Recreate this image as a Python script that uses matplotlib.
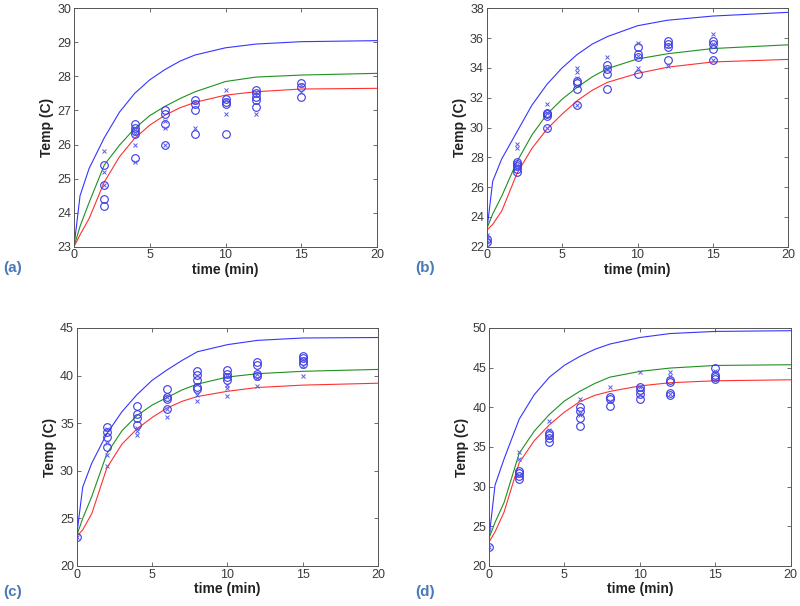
import matplotlib
matplotlib.use("Agg")
import matplotlib.pyplot as plt

plt.rcParams['font.family'] = ['Liberation Sans', 'DejaVu Sans']

# ---------------- model curves ----------------
t_curve = [0, 0.4, 1, 2, 3, 4, 5, 6, 7, 8, 10, 12, 15, 20]

blue_a = [23, 24.5, 25.3, 26.2, 26.95, 27.5, 27.9, 28.2, 28.45, 28.63, 28.84, 28.95, 29.02, 29.05]
green_a = [23, 23.6, 24.3, 25.4, 25.98, 26.47, 26.85, 27.12, 27.35, 27.55, 27.85, 27.98, 28.04, 28.09]
red_a = [23, 23.35, 23.83, 24.9, 25.64, 26.18, 26.57, 26.86, 27.08, 27.24, 27.45, 27.55, 27.63, 27.65]

blue_b = [23, 26.4, 27.9, 29.7, 31.5, 32.9, 34.0, 34.9, 35.6, 36.1, 36.83, 37.2, 37.48, 37.73]
green_b = [23.2, 24.2, 25.4, 27.7, 29.5, 30.9, 31.9, 32.7, 33.4, 33.95, 34.6, 34.95, 35.3, 35.55]
red_b = [23.1, 23.5, 24.4, 26.9, 28.6, 29.9, 30.9, 31.8, 32.5, 33.03, 33.63, 34.05, 34.4, 34.57]

blue_c = [23.2, 28.3, 30.8, 33.9, 36.2, 38.0, 39.5, 40.6, 41.6, 42.5, 43.25, 43.7, 43.95, 44.0]
green_c = [23.2, 25.0, 27.3, 31.8, 34.2, 35.8, 36.9, 37.7, 38.5, 39.1, 39.85, 40.2, 40.45, 40.65]
red_c = [23.1, 23.8, 25.5, 30.3, 32.8, 34.4, 35.6, 36.6, 37.3, 37.8, 38.35, 38.75, 39.0, 39.2]

blue_d = [23.5, 30.2, 33.5, 38.5, 41.6, 43.8, 45.3, 46.4, 47.3, 47.97, 48.8, 49.3, 49.57, 49.66]
green_d = [23.5, 25.5, 28.0, 34.2, 37.0, 39.1, 40.8, 42.0, 43.0, 43.8, 44.53, 44.95, 45.28, 45.37]
red_d = [23.0, 24.3, 26.8, 33.0, 35.8, 37.8, 39.4, 40.7, 41.5, 42.0, 42.7, 43.1, 43.35, 43.47]

# ---------------- measured data (circles and crosses) ----------------
t_a = [2, 4, 6, 8, 10, 12, 15]
circ_a = [[25.4, 24.8, 24.4, 24.2], [26.6, 26.5, 26.4, 26.3, 25.6], [27.0, 26.9, 26.6, 26.0],
          [27.3, 27.2, 27.0, 26.3], [27.35, 27.25, 27.2, 26.3], [27.6, 27.5, 27.4, 27.3, 27.1],
          [27.8, 27.7, 27.4]]
cross_a = [[25.8, 25.2, 24.8], [26.5, 26.3, 26.0, 25.5], [26.7, 26.5, 26.0], [27.25, 26.5],
           [27.6, 27.3, 26.9], [27.55, 27.45, 26.9], [27.75, 27.55]]

t_b = [0, 2, 4, 6, 8, 10, 12, 15]
circ_b = [[22.3, 22.5], [27.7, 27.55, 27.4, 27.2, 27.0], [31.0, 30.9, 30.8, 30.0],
          [33.1, 33.0, 32.6, 31.5], [34.2, 33.9, 33.6, 32.6], [35.4, 34.9, 34.7, 33.6],
          [35.8, 35.6, 35.4, 34.5], [35.8, 35.6, 35.3, 34.5]]
cross_b = [[22.3, 22.6, 22.8], [28.9, 28.6, 27.5, 27.3], [31.6, 31.0, 30.0], [34.0, 33.7, 33.3, 31.5],
           [34.7, 34.0], [35.7, 34.8, 34.0], [35.5, 34.15], [36.3, 35.6, 34.5]]

t_c = [0, 2, 4, 6, 8, 10, 12, 15]
circ_c = [[23.0], [34.6, 34.1, 33.6, 32.5], [36.8, 36.0, 35.5, 34.8], [38.6, 37.8, 37.5, 36.5],
          [40.5, 40.1, 39.5, 38.8, 38.6], [40.6, 40.2, 39.9, 39.5], [41.4, 41.1, 40.2, 40.0],
          [42.1, 41.8, 41.5, 41.2]]
cross_c = [[23.0], [34.4, 32.9, 31.7, 30.5], [34.5, 34.2, 33.8], [37.7, 36.5, 35.6], [38.0, 37.3],
           [40.0, 39.0, 38.7, 37.9], [40.2, 39.7, 38.9], [41.7, 41.0, 40.0]]

t_d = [0, 2, 4, 6, 8, 10, 12, 15]
circ_d = [[22.45], [32.0, 31.7, 31.3, 31.0], [36.8, 36.5, 36.1, 35.6], [40.0, 39.6, 38.6, 37.7],
          [41.3, 41.0, 40.2], [42.6, 42.2, 41.7, 41.0], [43.5, 43.2, 41.8, 41.6],
          [45.0, 44.1, 43.8, 43.6]]
cross_d = [[22.45, 24.6], [34.4, 33.5, 31.5], [38.3, 37.2, 36.3], [41.0, 39.3, 39.0], [42.5, 40.8],
           [44.5, 42.5, 41.6], [44.4, 44.0, 41.7], [44.6, 43.4]]

panel_labels = ['(a)', '(b)', '(c)', '(d)']
ylims = [(23, 30), (22, 38), (20, 45), (20, 50)]
yticks = [list(range(23, 31)), list(range(22, 39, 2)), list(range(20, 46, 5)), list(range(20, 51, 5))]
xticks = [0, 5, 10, 15, 20]

W, H = 800, 606
fig = plt.figure(figsize=(W / 100, H / 100), dpi=100)

# axes boxes in pixels: left, top, right, bottom
boxes = [(74, 8.3, 377, 246.7), (486.7, 8.3, 788.3, 246.7),
         (76.7, 328, 378, 566), (489, 328, 790.7, 566)]
label_pos = [(13, 268), (425, 268), (13, 592), (425, 592)]

panels = [
    (blue_a, green_a, red_a, t_a, circ_a, cross_a),
    (blue_b, green_b, red_b, t_b, circ_b, cross_b),
    (blue_c, green_c, red_c, t_c, circ_c, cross_c),
    (blue_d, green_d, red_d, t_d, circ_d, cross_d),
]

for i, (bl, gr, rd, tt, circ, cross) in enumerate(panels):
    l, t, r, b = boxes[i]
    ax = fig.add_axes([l / W, 1 - b / H, (r - l) / W, (b - t) / H])
    ax.plot(t_curve, bl, color='#3535ff', lw=0.8)
    ax.plot(t_curve, gr, color='#209020', lw=0.8)
    ax.plot(t_curve, rd, color='#ff3030', lw=0.8)
    for tv, vals in zip(tt, circ):
        ax.plot([tv] * len(vals), vals, linestyle='none', marker='o', ms=5.5,
                mfc='none', mec='#3a3ae6', mew=0.8)
    for tv, vals in zip(tt, cross):
        ax.plot([tv] * len(vals), vals, linestyle='none', marker='x', ms=3.5,
                color='#5a5aea', mew=0.7)
    ax.set_xlim(0, 20)
    ax.set_ylim(*ylims[i])
    ax.set_xticks(xticks)
    ax.set_yticks(yticks[i])
    ax.tick_params(direction='in', top=True, right=True, length=3, width=0.6,
                   labelsize=9, colors='#555555', labelcolor='#3a3a3a', pad=2)
    for sp in ax.spines.values():
        sp.set_color('#555555')
        sp.set_linewidth(0.7)
    ax.set_xlabel('time (min)', fontsize=10, fontweight='bold', color='#222222', labelpad=1)
    ax.set_ylabel('Temp (C)', fontsize=10, fontweight='bold', color='#222222', labelpad=2)
    lx, ly = label_pos[i]
    fig.text(lx / W, 1 - ly / H, panel_labels[i], fontsize=11, fontweight='bold',
             color='#4a7ab8', ha='center', va='center')

fig.savefig('out.png', dpi=100)
